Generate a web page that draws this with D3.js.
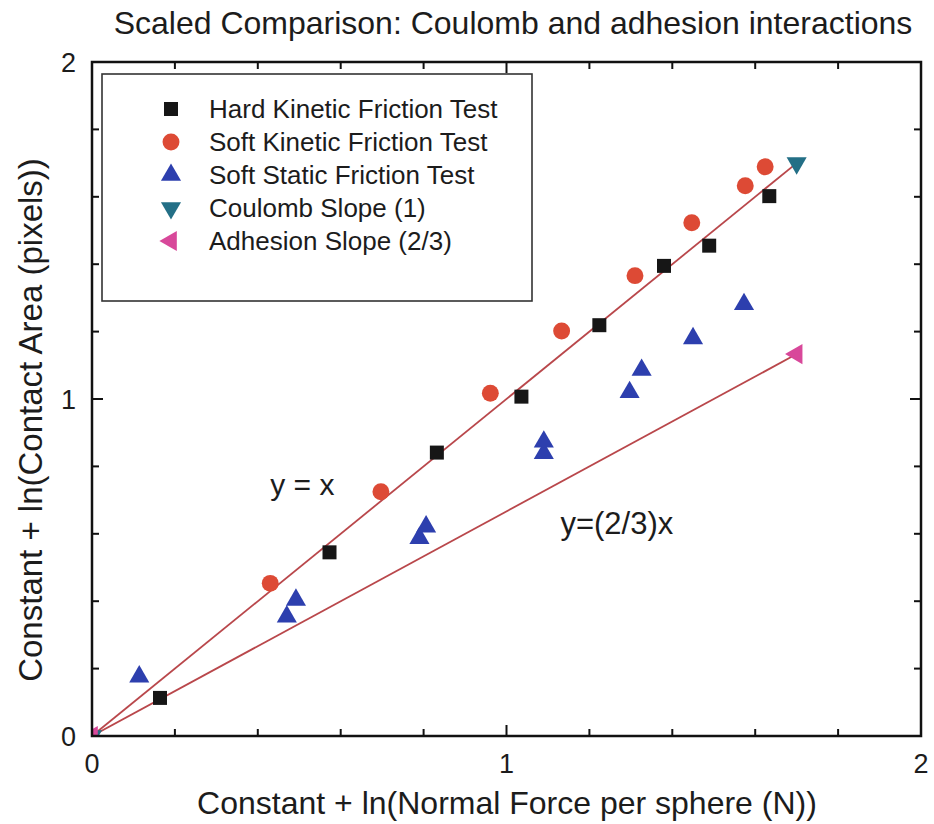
<!doctype html>
<html lang='en'>
<head>
    <meta charset='utf-8'>
    <title>Scaled Comparison</title>
    <script src='https://cdn.jsdelivr.net/npm/d3@7'></script>
    <style>
        body { margin: 0; background: white; }
        svg text { font-family: 'Liberation Sans', Arial, sans-serif; fill: #1c1c1c; }
        .frame { fill: none; stroke: #111; stroke-width: 2.5px; }
        .tick-line { stroke: #111; stroke-width: 2px; }
        .fit { stroke: #b9474b; stroke-width: 1.8px; fill: none; }
        .legend-box { fill: white; stroke: #333; stroke-width: 1.6px; }
    </style>
</head>
<body>
<svg id='chart' width='934' height='824'></svg>
<script>
    // data: [x, y]
    const hardKinetic = [[0.164, 0.113], [0.573, 0.545], [0.832, 0.841], [1.036, 1.007],
        [1.224, 1.219], [1.380, 1.395], [1.489, 1.455], [1.634, 1.602]];
    const softKinetic = [[0.430, 0.453], [0.697, 0.725], [0.961, 1.017], [1.133, 1.202],
        [1.310, 1.366], [1.447, 1.523], [1.576, 1.633], [1.624, 1.689]];
    const softStatic = [[0.114, 0.176], [0.470, 0.354], [0.492, 0.404], [0.790, 0.587],
        [0.806, 0.621], [1.090, 0.839], [1.090, 0.873], [1.297, 1.020], [1.326, 1.086],
        [1.450, 1.180], [1.573, 1.281]];
    const coulombSlope = [[0, 0], [1.7, 1.7]];
    const adhesionSlope = [[0, 0], [1.7, 1.1333]];

    const majorTicks = [0, 1, 2];
    const minorTicks = [0.2, 0.4, 0.6, 0.8, 1.2, 1.4, 1.6, 1.8];

    const legendLabels = ['Hard Kinetic Friction Test', 'Soft Kinetic Friction Test',
        'Soft Static Friction Test', 'Coulomb Slope (1)', 'Adhesion Slope (2/3)'];

    const svg = d3.select('#chart');
    const plotLeft = 92, plotRight = 921, plotTop = 62, plotBottom = 736;

    const x = d3.scaleLinear().domain([0, 2]).range([plotLeft, plotRight]);
    const y = d3.scaleLinear().domain([0, 2]).range([plotBottom, plotTop]);

    // marker styles
    const styles = [
        {type: d3.symbolSquare, size: 196, fill: '#161616', rot: 0},
        {type: d3.symbolCircle, size: 225, fill: '#dd4a35', rot: 0},
        {type: d3.symbolTriangle, size: 175, fill: '#2d3fae', rot: 0},
        {type: d3.symbolTriangle, size: 175, fill: '#236f86', rot: 180},
        {type: d3.symbolTriangle, size: 175, fill: '#d8489a', rot: -90}
    ];
    const sym = s => d3.symbol().type(s.type).size(s.size)();

    svg.append('defs').append('clipPath').attr('id', 'plot-clip')
        .append('rect').attr('x', plotLeft).attr('y', plotTop)
        .attr('width', plotRight - plotLeft).attr('height', plotBottom - plotTop);

    // title
    svg.append('text')
        .attr('x', 513).attr('y', 34)
        .attr('text-anchor', 'middle')
        .style('font-size', '32px')
        .text('Scaled Comparison: Coulomb and adhesion interactions');

    // fit lines
    const line = d3.line().x(d => x(d[0])).y(d => y(d[1]));
    const plot = svg.append('g').attr('clip-path', 'url(#plot-clip)');
    plot.append('path').datum(coulombSlope).attr('class', 'fit').attr('d', line);
    plot.append('path').datum(adhesionSlope).attr('class', 'fit').attr('d', line);

    // markers
    const series = [hardKinetic, softKinetic, softStatic, coulombSlope, adhesionSlope];
    series.forEach((data, i) => {
        plot.selectAll('.m' + i)
            .data(data)
            .enter()
            .append('path')
            .attr('class', 'm' + i)
            .attr('d', sym(styles[i]))
            .attr('transform', d => `translate(${x(d[0])},${y(d[1])}) rotate(${styles[i].rot})`)
            .style('fill', styles[i].fill);
    });

    // frame + inward ticks on all four sides
    svg.append('rect').attr('class', 'frame')
        .attr('x', plotLeft).attr('y', plotTop)
        .attr('width', plotRight - plotLeft).attr('height', plotBottom - plotTop);

    const ticks = majorTicks.map(v => ({v: v, len: 11})).concat(minorTicks.map(v => ({v: v, len: 7})));
    const tg = svg.append('g');
    tg.selectAll('.tb').data(ticks).enter().append('line').attr('class', 'tick-line')
        .attr('x1', d => x(d.v)).attr('x2', d => x(d.v))
        .attr('y1', plotBottom).attr('y2', d => plotBottom - d.len);
    tg.selectAll('.tt').data(ticks).enter().append('line').attr('class', 'tick-line')
        .attr('x1', d => x(d.v)).attr('x2', d => x(d.v))
        .attr('y1', plotTop).attr('y2', d => plotTop + d.len);
    tg.selectAll('.tl').data(ticks).enter().append('line').attr('class', 'tick-line')
        .attr('y1', d => y(d.v)).attr('y2', d => y(d.v))
        .attr('x1', plotLeft).attr('x2', d => plotLeft + d.len);
    tg.selectAll('.tr').data(ticks).enter().append('line').attr('class', 'tick-line')
        .attr('y1', d => y(d.v)).attr('y2', d => y(d.v))
        .attr('x1', plotRight).attr('x2', d => plotRight - d.len);

    // tick labels
    svg.selectAll('.xl').data(majorTicks).enter().append('text')
        .attr('x', d => x(d)).attr('y', plotBottom + 37)
        .attr('text-anchor', 'middle').style('font-size', '27px')
        .text(d => d);
    svg.selectAll('.yl').data(majorTicks).enter().append('text')
        .attr('x', plotLeft - 16).attr('y', d => y(d) + 10)
        .attr('text-anchor', 'end').style('font-size', '27px')
        .text(d => d);

    // axis titles
    svg.append('text')
        .attr('x', 507).attr('y', 814)
        .attr('text-anchor', 'middle').style('font-size', '32px')
        .text('Constant + ln(Normal Force per sphere (N))');
    svg.append('text')
        .attr('transform', 'translate(42,420) rotate(-90)')
        .attr('text-anchor', 'middle').style('font-size', '33px')
        .text('Constant + ln(Contact Area (pixels))');

    // line annotations
    svg.append('text').attr('x', x(0.43)).attr('y', y(0.715))
        .style('font-size', '30px').text('y = x');
    svg.append('text').attr('x', x(1.13)).attr('y', y(0.60))
        .style('font-size', '31px').text('y=(2/3)x');

    // legend
    const legend = svg.append('g');
    legend.append('rect').attr('class', 'legend-box')
        .attr('x', 102).attr('y', 74).attr('width', 430).attr('height', 227);
    const rows = legend.selectAll('.row')
        .data(legendLabels)
        .enter()
        .append('g')
        .attr('transform', (d, i) => `translate(171,${109 + i * 33})`);
    rows.append('path')
        .attr('d', (d, i) => sym(styles[i]))
        .attr('transform', (d, i) => `rotate(${styles[i].rot})`)
        .style('fill', (d, i) => styles[i].fill);
    rows.append('text')
        .attr('x', 38).attr('y', 9)
        .style('font-size', '26px')
        .text(d => d);
</script>
</body>
</html>
